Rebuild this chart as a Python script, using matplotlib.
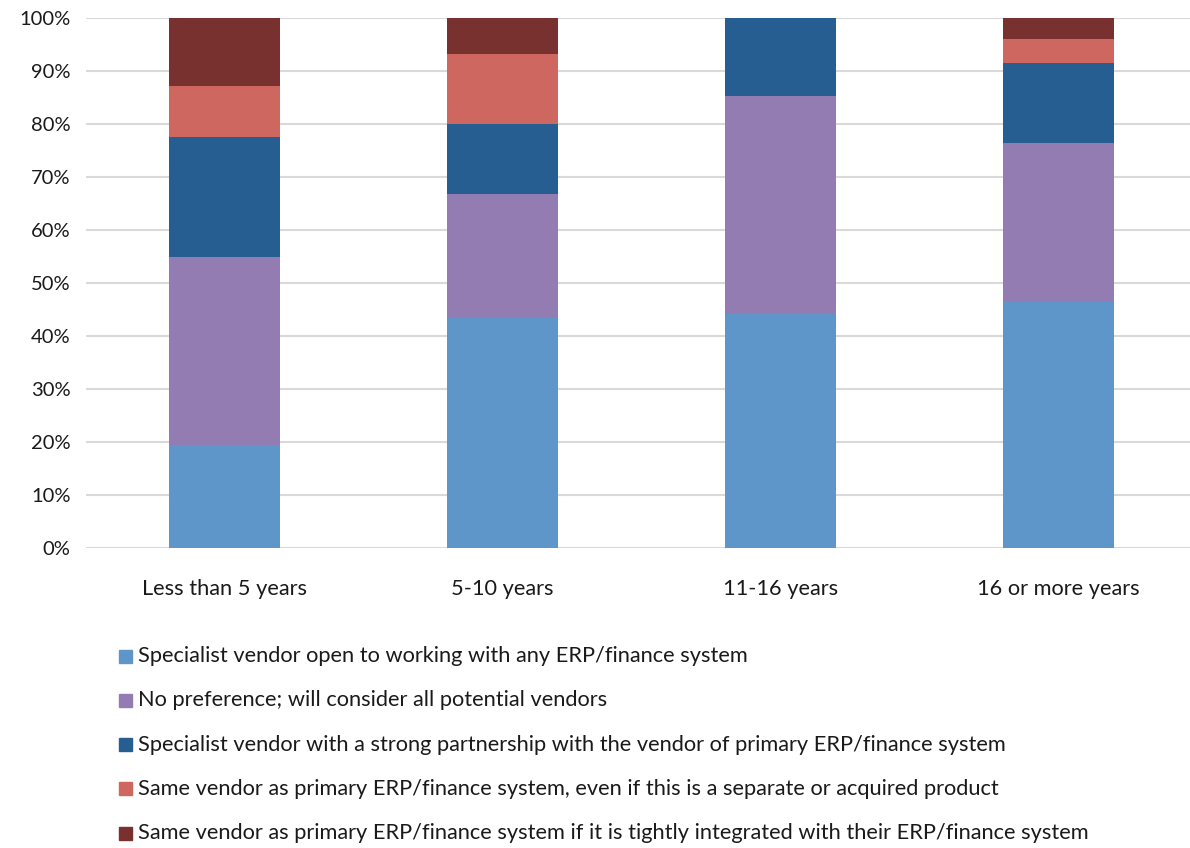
import numpy as np
import matplotlib.pyplot as plt
from matplotlib.patches import Rectangle

plt.rcParams['font.family'] = ['Lato', 'DejaVu Sans']

# share of respondents (%) per time-with-system group
groups = ['Less than 5 years', '5-10 years', '11-16 years', '16 or more years']
open_any = [19.4, 43.4, 44.1, 46.4]
no_pref = [35.5, 23.3, 41.2, 30.0]
partnership = [22.6, 13.3, 14.7, 15.1]
same_separate = [9.7, 13.3, 0.0, 4.5]
same_integrated = [12.8, 6.7, 0.0, 4.0]

series_labels = [
    'Specialist vendor open to working with any ERP/finance system',
    'No preference; will consider all potential vendors',
    'Specialist vendor with a strong partnership with the vendor of primary ERP/finance system',
    'Same vendor as primary ERP/finance system, even if this is a separate or acquired product',
    'Same vendor as primary ERP/finance system if it is tightly integrated with their ERP/finance system',
]
colors = ['#5F96C9', '#937CB2', '#265E91', '#CE6760', '#78312F']


def plot_stacked(ax, series):
    x = np.arange(len(groups))
    bottom = np.zeros(len(groups))
    for values, color in zip(series, colors):
        values = np.array(values)
        ax.bar(x, values, 0.4, bottom=bottom, color=color, linewidth=0, zorder=3)
        bottom += values
    ax.set_xticks(x)
    ax.set_xticklabels(groups)
    ax.set_xlim(-0.5, len(groups) - 0.5)


fig = plt.figure(figsize=(11.9, 8.48), dpi=100)
ax = fig.add_axes([86 / 1190, 1 - 548 / 848, 1111 / 1190, 530 / 848])

plot_stacked(ax, [open_any, no_pref, partnership, same_separate, same_integrated])

ax.set_ylim(0, 100)
ax.set_yticks(np.arange(0, 101, 10))
ax.set_yticklabels(['{}%'.format(t) for t in range(0, 101, 10)])
ax.grid(axis='y', color='#D9D9D9', linewidth=1.5, zorder=0)
for side in ['left', 'right', 'top', 'bottom']:
    ax.spines[side].set_visible(False)
ax.tick_params(axis='both', length=0, colors='#1a1a1a')
ax.tick_params(axis='x', labelsize=15.7, pad=22)
ax.tick_params(axis='y', labelsize=14.5, pad=11)

# legend as a single column under the chart
for i, (label, color) in enumerate(zip(series_labels, colors)):
    y = 1 - (656 + i * 44.3) / 848
    fig.patches.append(Rectangle((119 / 1190, y - 6.5 / 848), 13 / 1190, 13 / 848,
                                 transform=fig.transFigure, color=color))
    fig.text(138 / 1190, y, label, fontsize=15.7, va='center', ha='left', color='#1a1a1a')

fig.savefig('out.png', dpi=100)
